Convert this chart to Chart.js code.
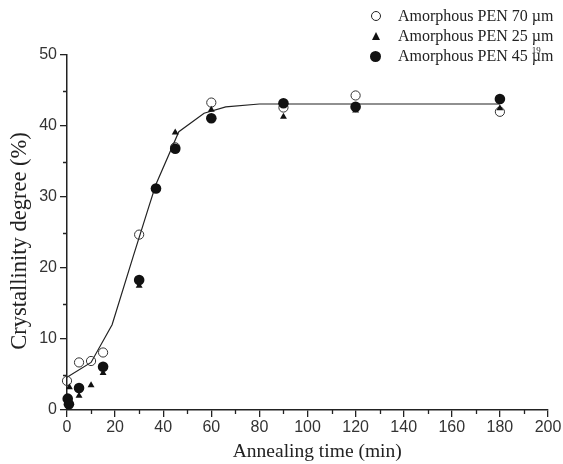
<!DOCTYPE html>
<html>
<head>
<meta charset="utf-8">
<script src="https://cdn.jsdelivr.net/npm/chart.js@4/dist/chart.umd.min.js"></script>
<style>
    html, body { margin: 0; padding: 0; background: #fff; }
    #wrap { position: relative; width: 563px; height: 464px; }
    #legend {
        position: absolute; left: 368px; top: 6px;
        font-family: "Liberation Serif", "Times New Roman", serif;
        font-size: 16px; color: #222;
    }
    .row { position: relative; height: 20px; line-height: 20px; white-space: nowrap; }
    .mk { position: absolute; left: 3px; top: 5px; width: 10px; height: 10px; box-sizing: border-box; }
    .open { border: 1px solid #222; border-radius: 50%; width: 10px; height: 10px; }
    .dot { background: #111; border-radius: 50%; width: 11px; height: 11px; left: 2px; top: 5px; }
    .tri { width: 0; height: 0; border-left: 4.5px solid transparent; border-right: 4.5px solid transparent; border-bottom: 8px solid #111; left: 4px; top: 6px; }
    .txt { position: absolute; left: 30px; top: 0; }
    .ref { position: relative; }
    .ref sup { position: absolute; left: 0px; top: -1px; font-size: 9px; line-height: 9px; }
</style>
</head>
<body>
<div id="wrap">
    <canvas id="chart" width="563" height="464"></canvas>
    <div id="legend">
        <div class="row"><span class="mk open"></span><span class="txt">Amorphous PEN 70 µm</span></div>
        <div class="row"><span class="mk tri"></span><span class="txt">Amorphous PEN 25 µm</span></div>
        <div class="row"><span class="mk dot"></span><span class="txt">Amorphous PEN 45 <span class="ref">µm<sup>19</sup></span></span></div>
    </div>
</div>
<script>
// values
const pen70X = [0, 5, 10, 15, 30, 45, 60, 90, 120, 180];
const pen70Y = [4.1, 6.7, 6.9, 8.1, 24.7, 37.0, 43.3, 42.6, 44.3, 42.0];

const pen25X = [1, 5, 10, 15, 30, 45, 60, 90, 120, 180];
const pen25Y = [3.2, 2.0, 3.5, 5.2, 17.5, 39.1, 42.3, 41.3, 42.2, 42.5];

const pen45X = [0.3, 0.8, 5, 15, 30, 37, 45, 60, 90, 120, 180];
const pen45Y = [1.6, 0.8, 3.1, 6.1, 18.3, 31.2, 36.8, 41.1, 43.2, 42.7, 43.8];

const fitX = [0, 10, 18.75, 27.5, 34, 37, 46.5, 57, 66, 80, 90, 120, 180];
const fitY = [4.6, 6.7, 12.0, 21.6, 28.6, 31.8, 39.2, 41.8, 42.7, 43.1, 43.1, 43.1, 43.1];

const xTicks = [0, 20, 40, 60, 80, 100, 120, 140, 160, 180, 200];
const yTicks = [0, 10, 20, 30, 40, 50];
const xMinor = [10, 30, 50, 70, 90, 110, 130, 150, 170, 190];
const yMinor = [5, 15, 25, 35, 45];

const toPoints = (xs, ys) => xs.map((x, i) => ({ x, y: ys[i] }));

const AXIS_COLOR = "#222";
const SERIF = "'Liberation Serif', 'Times New Roman', serif";
const SANS = "'Liberation Sans', Arial, sans-serif";

const minorTicks = {
    id: "minorTicks",
    afterDraw(chart) {
        const { ctx, scales: { x, y } } = chart;
        ctx.save();
        ctx.strokeStyle = AXIS_COLOR;
        ctx.lineWidth = 1.3;
        ctx.beginPath();
        xMinor.forEach(v => {
            const px = Math.round(x.getPixelForValue(v)) + 0.5;
            ctx.moveTo(px, y.bottom);
            ctx.lineTo(px, y.bottom + 4);
        });
        yMinor.forEach(v => {
            const py = Math.round(y.getPixelForValue(v)) + 0.5;
            ctx.moveTo(x.left, py);
            ctx.lineTo(x.left - 4, py);
        });
        ctx.stroke();
        ctx.restore();
    }
};

new Chart(document.getElementById("chart"), {
    type: "scatter",
    data: {
        datasets: [
            {
                label: "Amorphous PEN 45 µm",
                data: toPoints(pen45X, pen45Y),
                pointStyle: "circle",
                pointRadius: 5.3,
                backgroundColor: "#111",
                borderColor: "#111",
                borderWidth: 0,
                clip: false,
                order: 0
            },
            {
                label: "Amorphous PEN 25 µm",
                data: toPoints(pen25X, pen25Y),
                pointStyle: "triangle",
                pointRadius: 4,
                backgroundColor: "#111",
                borderColor: "#111",
                borderWidth: 0,
                clip: false,
                order: 1
            },
            {
                label: "Amorphous PEN 70 µm",
                data: toPoints(pen70X, pen70Y),
                pointStyle: "circle",
                pointRadius: 4.6,
                backgroundColor: "rgba(255,255,255,0)",
                borderColor: "#333",
                borderWidth: 1,
                clip: false,
                order: 2
            },
            {
                label: "fit",
                data: toPoints(fitX, fitY),
                showLine: true,
                pointRadius: 0,
                borderColor: "#222",
                borderWidth: 1.2,
                tension: 0,
                clip: false,
                order: 3
            }
        ]
    },
    options: {
        responsive: false,
        animation: false,
        layout: { padding: { top: 55, right: 15, left: 0, bottom: 0 } },
        plugins: {
            legend: { display: false },
            tooltip: { enabled: false }
        },
        scales: {
            x: {
                type: "linear",
                min: 0,
                max: 200,
                afterBuildTicks: scale => { scale.ticks = xTicks.map(value => ({ value })); },
                afterFit: scale => { scale.height = 54; },
                border: { display: true, color: AXIS_COLOR, width: 1.5 },
                grid: { drawOnChartArea: false, drawTicks: true, tickLength: 7, color: AXIS_COLOR, lineWidth: 1.3 },
                ticks: { color: "#333", font: { family: SANS, size: 16 }, padding: 1, maxRotation: 0 },
                title: {
                    display: true,
                    // leading spaces nudge the centred title a little to the right, as in the figure
                    text: "    Annealing time (min)",
                    color: "#222",
                    font: { family: SERIF, size: 19.5 },
                    padding: { top: 0, bottom: 0 }
                }
            },
            y: {
                type: "linear",
                min: 0,
                max: 50,
                afterBuildTicks: scale => { scale.ticks = yTicks.map(value => ({ value })); },
                afterFit: scale => { scale.width = 67; },
                border: { display: true, color: AXIS_COLOR, width: 1.5 },
                grid: { drawOnChartArea: false, drawTicks: true, tickLength: 7, color: AXIS_COLOR, lineWidth: 1.3 },
                ticks: { color: "#333", font: { family: SANS, size: 16 }, padding: 3 },
                title: {
                    display: true,
                    // trailing spaces push the visible text slightly down
                    text: "Crystallinity degree (%)   ",
                    color: "#222",
                    font: { family: SERIF, size: 22.5 },
                    padding: { top: 7, bottom: 0 }
                }
            }
        }
    },
    plugins: [minorTicks]
});
</script>
</body>
</html>
